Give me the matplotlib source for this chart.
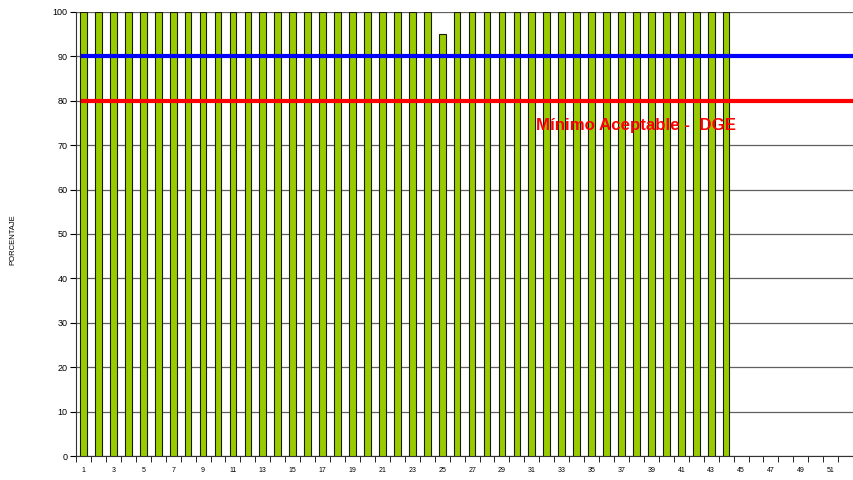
import matplotlib.pyplot as plt
from matplotlib.ticker import FixedLocator

plt.rcParams['font.family'] = ['Liberation Sans', 'DejaVu Sans']

categories = list(range(1, 53))
values = [100] * 24 + [95] + [100] * 19   # weeks 1..44, the rest empty
target = 90
minimum = 80

fig = plt.figure(figsize=(8.54, 4.8), dpi=100)
ax = fig.add_axes([0.089, 0.05, 0.91, 0.925])

ax.set_xlim(0.5, 52.5)
ax.set_ylim(0, 100)

ax.set_yticks(range(0, 101, 10))
ax.yaxis.grid(True, color='#606060', linewidth=0.9)
ax.set_axisbelow(True)

ax.bar(categories[:len(values)], values, width=0.45, color='#99CC00',
       edgecolor='#1a1a00', linewidth=0.8, zorder=3)

ax.plot([1, 52.5], [target, target], color='#0000FF', linewidth=3, zorder=4)
ax.plot([1, 52.5], [minimum, minimum], color='#FF0000', linewidth=3, zorder=4)

ax.text(31.3, 74.4, 'Mínimo Aceptable -  DGE', color='#FF0000', fontsize=12.2,
        fontweight='bold', va='center', ha='left', zorder=5)

ax.set_xticks(categories[::2])
ax.set_xticklabels([str(c) for c in categories[::2]])
ax.xaxis.set_minor_locator(FixedLocator([c + 0.5 for c in range(0, 53)]))
ax.tick_params(axis='x', which='major', length=0, labelsize=5, pad=8)
ax.tick_params(axis='x', which='minor', length=4, direction='out')
ax.tick_params(axis='y', labelsize=6.5, length=4, direction='out', pad=2)

for s in ['top', 'right']:
    ax.spines[s].set_visible(False)
ax.spines['left'].set_color('#333333')
ax.spines['bottom'].set_color('#333333')

fig.text(0.015, 0.5, 'PORCENTAJE', rotation=90, fontsize=5.5, va='center', ha='center')

fig.savefig('out.png', dpi=100)
